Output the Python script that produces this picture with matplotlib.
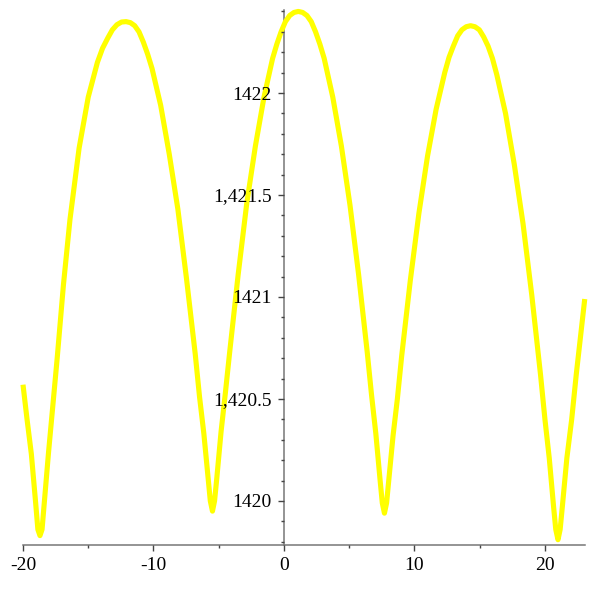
import matplotlib

matplotlib.use("Agg")
import matplotlib.pyplot as plt
from matplotlib.ticker import FixedLocator

OUTPUT_PATH = "out.png"

# curve samples
X_VALUES = [
    -20.00, -19.69, -19.36, -19.03, -18.86,
    -18.70,
    -18.54, -18.37, -18.04, -17.71, -17.38, -16.90, -16.40, -15.70, -15.00, -14.30,
    -13.90, -13.50, -13.15, -12.80, -12.45,
    -12.10,
    -11.77, -11.44, -11.11, -10.78, -10.445, -10.11, -9.45, -8.79, -8.13, -7.47,
    -6.80, -6.47, -6.14, -5.81, -5.645,
    -5.48,
    -5.32, -5.15, -4.82, -4.49, -4.16, -3.51, -2.85, -2.19, -1.53, -0.87,
    -0.545, -0.22, 0.11, 0.44, 0.77,
    1.10,
    1.43, 1.76, 2.09, 2.42, 2.75, 3.08, 3.74, 4.40, 5.06, 5.72,
    6.38, 6.71, 7.04, 7.37, 7.535,
    7.70,
    7.865, 8.03, 8.36, 8.69, 9.02, 9.68, 10.34, 11.00, 11.66, 12.32,
    12.65, 12.98, 13.31, 13.64, 13.97,
    14.30,
    14.635, 14.97, 15.305, 15.64, 15.975, 16.31, 16.98, 17.65, 18.32, 18.99,
    19.66, 20.00, 20.33, 20.665, 20.83,
    21.00,
    21.165, 21.33, 21.68, 22.05, 22.40, 23.05,
]
Y_VALUES = [
    1420.57, 1420.40, 1420.23, 1419.99, 1419.86,
    1419.83,
    1419.86, 1419.99, 1420.24, 1420.47, 1420.70, 1421.06, 1421.38, 1421.73, 1421.98, 1422.15,
    1422.22, 1422.27, 1422.31, 1422.335, 1422.348,
    1422.35,
    1422.345, 1422.33, 1422.30, 1422.25, 1422.19, 1422.12, 1421.94, 1421.70, 1421.43, 1421.09,
    1420.72, 1420.51, 1420.33, 1420.11, 1420.00,
    1419.95,
    1420.00, 1420.11, 1420.34, 1420.53, 1420.73, 1421.11, 1421.46, 1421.74, 1421.98, 1422.17,
    1422.24, 1422.30, 1422.35, 1422.38, 1422.395,
    1422.40,
    1422.395, 1422.38, 1422.35, 1422.30, 1422.24, 1422.17, 1421.98, 1421.74, 1421.45, 1421.11,
    1420.73, 1420.52, 1420.33, 1420.10, 1419.99,
    1419.94,
    1419.99, 1420.10, 1420.32, 1420.50, 1420.71, 1421.08, 1421.41, 1421.69, 1421.92, 1422.10,
    1422.175, 1422.23, 1422.28, 1422.31, 1422.325,
    1422.33,
    1422.325, 1422.31, 1422.275, 1422.23, 1422.17, 1422.09, 1421.90, 1421.65, 1421.36, 1421.01,
    1420.62, 1420.40, 1420.21, 1419.97, 1419.86,
    1419.81,
    1419.86, 1419.97, 1420.21, 1420.40, 1420.62, 1420.99,
]

X_TICKS = [-20, -10, 0, 10, 20]
X_TICK_LABELS = ["-20", "-10", "0", "10", "20"]
X_MINOR = [-15, -5, 5, 15]
Y_TICKS = [1420, 1420.5, 1421, 1421.5, 1422]
Y_TICK_LABELS = ["1420", "1,420.5", "1421", "1,421.5", "1422"]
Y_MINOR = [1419.8 + 0.1 * i for i in range(27)]

X_RANGE = (-20, 23.07)
Y_RANGE = (1419.784, 1422.407)


def main():
    plt.rcParams["font.family"] = ["Liberation Serif", "DejaVu Serif"]
    plt.rcParams["axes.unicode_minus"] = False

    fig = plt.figure(figsize=(5.96, 5.96), dpi=100)
    ax = fig.add_axes([23 / 596, 1 - 545 / 596, 562 / 596, 535 / 596])

    # curve sits above the axis lines, tick labels sit above the curve
    ax.plot(X_VALUES, Y_VALUES, color="#ffff00", lw=3.7, zorder=2.7,
            solid_capstyle="butt", solid_joinstyle="round", clip_on=False)
    ax.xaxis.set_zorder(3)
    ax.yaxis.set_zorder(3)

    ax.set_xlim(*X_RANGE)
    ax.set_ylim(*Y_RANGE)

    for side in ("top", "right"):
        ax.spines[side].set_visible(False)
    ax.spines["left"].set_position(("data", 0))
    for side in ("left", "bottom"):
        ax.spines[side].set_color("#777777")
        ax.spines[side].set_linewidth(1.1)

    ax.xaxis.set_major_locator(FixedLocator(X_TICKS))
    ax.xaxis.set_minor_locator(FixedLocator(X_MINOR))
    ax.set_xticklabels(X_TICK_LABELS)
    ax.yaxis.set_major_locator(FixedLocator(Y_TICKS))
    ax.yaxis.set_minor_locator(FixedLocator(Y_MINOR))
    ax.set_yticklabels(Y_TICK_LABELS)

    ax.tick_params(axis="both", which="both", direction="out", color="#444444",
                   labelsize=14, labelcolor="black")
    ax.tick_params(axis="x", which="major", length=4, width=1, pad=5)
    ax.tick_params(axis="x", which="minor", length=2.5, width=1)
    ax.tick_params(axis="y", which="major", length=4, width=1, pad=5)
    ax.tick_params(axis="y", which="minor", length=2.5, width=1)

    fig.savefig(OUTPUT_PATH, dpi=100)
    plt.close(fig)


if __name__ == "__main__":
    main()
